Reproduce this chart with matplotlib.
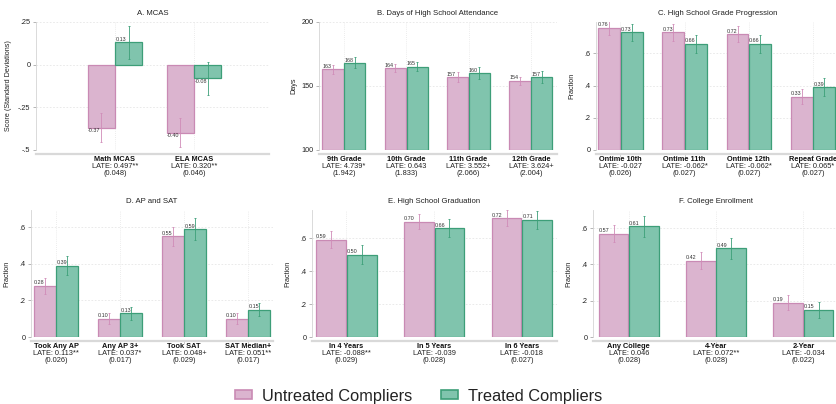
import matplotlib
matplotlib.use("Agg")
import matplotlib.pyplot as plt
from matplotlib.patches import Patch

plt.rcParams['font.family'] = ['Liberation Sans', 'DejaVu Sans']

# A. MCAS
cats_a = ['Math MCAS', 'ELA MCAS']
untreated_a = [-0.37, -0.40]
treated_a = [0.13, -0.08]
ci_u_a = [0.085, 0.085]
ci_t_a = [0.095, 0.095]
late_a = ['LATE: 0.497**', 'LATE: 0.320**']
se_a = ['(0.048)', '(0.046)']

# B. Days of High School Attendance
cats_b = ['9th Grade', '10th Grade', '11th Grade', '12th Grade']
untreated_b = [163, 164, 157, 154]
treated_b = [168, 165, 160, 157]
ci_u_b = [3.5, 3.0, 4.0, 3.2]
ci_t_b = [4.3, 3.5, 4.5, 4.5]
late_b = ['LATE: 4.739*', 'LATE: 0.643', 'LATE: 3.552+', 'LATE: 3.624+']
se_b = ['(1.942)', '(1.833)', '(2.066)', '(2.004)']

# C. High School Grade Progression
cats_c = ['Ontime 10th', 'Ontime 11th', 'Ontime 12th', 'Repeat Grade']
untreated_c = [0.76, 0.73, 0.72, 0.33]
treated_c = [0.73, 0.66, 0.66, 0.39]
ci_u_c = [0.045, 0.05, 0.05, 0.047]
ci_t_c = [0.055, 0.055, 0.055, 0.057]
late_c = ['LATE: -0.027', 'LATE: -0.062*', 'LATE: -0.062*', 'LATE: 0.065*']
se_c = ['(0.026)', '(0.027)', '(0.027)', '(0.027)']

# D. AP and SAT
cats_d = ['Took Any AP', 'Any AP 3+', 'Took SAT', 'SAT Median+']
untreated_d = [0.28, 0.10, 0.55, 0.10]
treated_d = [0.39, 0.13, 0.59, 0.15]
ci_u_d = [0.043, 0.03, 0.05, 0.03]
ci_t_d = [0.053, 0.035, 0.06, 0.035]
late_d = ['LATE: 0.113**', 'LATE: 0.037*', 'LATE: 0.048+', 'LATE: 0.051**']
se_d = ['(0.026)', '(0.017)', '(0.029)', '(0.017)']

# E. High School Graduation
cats_e = ['In 4 Years', 'In 5 Years', 'In 6 Years']
untreated_e = [0.59, 0.70, 0.72]
treated_e = [0.50, 0.66, 0.71]
ci_u_e = [0.05, 0.048, 0.048]
ci_t_e = [0.058, 0.056, 0.053]
late_e = ['LATE: -0.088**', 'LATE: -0.039', 'LATE: -0.018']
se_e = ['(0.029)', '(0.028)', '(0.027)']

# F. College Enrollment
cats_f = ['Any College', '4-Year', '2-Year']
untreated_f = [0.57, 0.42, 0.19]
treated_f = [0.61, 0.49, 0.15]
ci_u_f = [0.048, 0.046, 0.04]
ci_t_f = [0.057, 0.058, 0.045]
late_f = ['LATE: 0.046', 'LATE: 0.072**', 'LATE: -0.034']
se_f = ['(0.028)', '(0.028)', '(0.022)']

frac_ticks = [0, 0.2, 0.4, 0.6]
frac_labels = ['0', '.2', '.4', '.6']

PINK_FILL = '#dbb4cf'
PINK_EDGE = '#c98ab4'
PINK_ERR = '#d08cb8'
GREEN_FILL = '#80c4ad'
GREEN_EDGE = '#3d9e78'
GREEN_ERR = '#3c9f78'

W, H = 837, 404
fig = plt.figure(figsize=(W / 100, H / 100), dpi=100)


def px_axes(x0, x1, y0, y1):
    # axes box given in pixel coordinates from the top-left corner
    return fig.add_axes([x0 / W, 1 - y1 / H, (x1 - x0) / W, (y1 - y0) / H])


def panel(ax, title, cats, unt, trt, ci_u, ci_t, late, se, ylim, yticks,
          yticklabels, ylabel, xlim, fmt, ylab_px):
    n = len(cats)
    xs = list(range(1, n + 1))
    bw = 0.34
    xu = [x - 0.175 for x in xs]
    xt = [x + 0.175 for x in xs]

    for yt in yticks:
        ax.axhline(yt, color='#e6e6e6', lw=0.6, ls=(0, (2, 2)), zorder=0)
    for x in xs:
        ax.axvline(x, color='#e6e6e6', lw=0.6, ls=(0, (1, 1.5)), zorder=0)

    ax.bar(xu, [v - (ylim[0] if ylim[0] > 0 else 0) for v in unt], bw,
           bottom=ylim[0] if ylim[0] > 0 else 0,
           color=PINK_FILL, edgecolor=PINK_EDGE, lw=0.9, zorder=2)
    ax.bar(xt, [v - (ylim[0] if ylim[0] > 0 else 0) for v in trt], bw,
           bottom=ylim[0] if ylim[0] > 0 else 0,
           color=GREEN_FILL, edgecolor=GREEN_EDGE, lw=0.9, zorder=2)
    ax.errorbar(xu, unt, yerr=ci_u, fmt='none', ecolor=PINK_ERR,
                elinewidth=0.6, capsize=0.8, capthick=0.6, zorder=3)
    ax.errorbar(xt, trt, yerr=ci_t, fmt='none', ecolor=GREEN_ERR,
                elinewidth=0.6, capsize=0.8, capthick=0.6, zorder=3)

    for xx, vals in ((xu, unt), (xt, trt)):
        for x, v in zip(xx, vals):
            left = x - bw / 2
            if v >= 0:
                ax.annotate(fmt.format(v), (left, v), xytext=(0, 0.3),
                            textcoords='offset points', ha='left',
                            va='bottom', fontsize=3.9, color='#333333',
                            zorder=4)
            else:
                ax.annotate(fmt.format(v), (left, v), xytext=(0, -0.3),
                            textcoords='offset points', ha='left',
                            va='top', fontsize=3.9, color='#333333',
                            zorder=4)

    ax.set_xlim(*xlim)
    ax.set_ylim(*ylim)
    ax.set_yticks(yticks)
    ax.set_yticklabels(yticklabels)
    ax.set_xticks(xs)
    ax.set_xticklabels([])
    ax.tick_params(axis='y', length=2.5, width=0.5, color='#999999',
                   labelsize=5.2, pad=1.5, labelcolor='#222222')
    ax.tick_params(axis='x', length=2, width=0.5, color='#bbbbbb')

    for side in ('top', 'right'):
        ax.spines[side].set_visible(False)
    ax.spines['left'].set_color('#d4d4d4')
    ax.spines['left'].set_linewidth(0.6)
    ax.spines['bottom'].set_position(('outward', 3))
    ax.spines['bottom'].set_color('#d9d9d9')
    ax.spines['bottom'].set_linewidth(1.6)

    ax.set_title(title, fontsize=5.6, pad=5, color='#222222')
    ax.set_ylabel(ylabel, fontsize=5.2, color='#222222')
    ax.yaxis.set_label_coords(-ylab_px / ax.bbox.width, 0.5)

    for x, c, l, s in zip(xs, cats, late, se):
        ax.annotate(c, (x, 0), xycoords=('data', 'axes fraction'),
                    xytext=(0, -6.8), textcoords='offset points',
                    ha='center', va='center', fontsize=5.3,
                    fontweight='bold', color='#111111')
        ax.annotate(l, (x, 0), xycoords=('data', 'axes fraction'),
                    xytext=(0, -11.9), textcoords='offset points',
                    ha='center', va='center', fontsize=5.3, color='#222222')
        ax.annotate(s, (x, 0), xycoords=('data', 'axes fraction'),
                    xytext=(0, -17.0), textcoords='offset points',
                    ha='center', va='center', fontsize=5.3, color='#222222')


ax_a = px_axes(36, 269, 22, 150)
ax_b = px_axes(319, 557, 22, 150)
ax_c = px_axes(596, 840, 22, 150)
ax_d = px_axes(31, 273, 210, 337)
ax_e = px_axes(312, 557, 210, 337)
ax_f = px_axes(593, 840, 210, 337)

panel(ax_a, 'A. MCAS', cats_a, untreated_a, treated_a, ci_u_a, ci_t_a,
      late_a, se_a, (-0.5, 0.25), [-0.5, -0.25, 0, 0.25],
      ['-.5', '-.25', '0', '.25'], 'Score (Standard Deviations)',
      (0, 2.95), '{:.2f}', 24)
panel(ax_b, 'B. Days of High School Attendance', cats_b, untreated_b,
      treated_b, ci_u_b, ci_t_b, late_b, se_b, (100, 200), [100, 150, 200],
      ['100', '150', '200'], 'Days', (0.6, 4.42), '{:.0f}', 22)
panel(ax_c, 'C. High School Grade Progression', cats_c, untreated_c,
      treated_c, ci_u_c, ci_t_c, late_c, se_c, (0, 0.795), frac_ticks,
      frac_labels, 'Fraction', (0.62, 4.42), '{:.2f}', 21)
panel(ax_d, 'D. AP and SAT', cats_d, untreated_d, treated_d, ci_u_d, ci_t_d,
      late_d, se_d, (0, 0.695), frac_ticks, frac_labels, 'Fraction',
      (0.61, 4.39), '{:.2f}', 21)
panel(ax_e, 'E. High School Graduation', cats_e, untreated_e, treated_e,
      ci_u_e, ci_t_e, late_e, se_e, (0, 0.77), frac_ticks, frac_labels,
      'Fraction', (0.61, 3.4), '{:.2f}', 21)
panel(ax_f, 'F. College Enrollment', cats_f, untreated_f, treated_f,
      ci_u_f, ci_t_f, late_f, se_f, (0, 0.70), frac_ticks, frac_labels,
      'Fraction', (0.59, 3.42), '{:.2f}', 21)

handles = [Patch(facecolor=PINK_FILL, edgecolor=PINK_EDGE, lw=1.2,
                 label='Untreated Compliers'),
           Patch(facecolor=GREEN_FILL, edgecolor=GREEN_EDGE, lw=1.2,
                 label='Treated Compliers')]
fig.legend(handles=handles, loc='center', bbox_to_anchor=(0.5, 1 - 396 / H),
           ncol=2, frameon=False, fontsize=11.8, handlelength=1.05,
           handleheight=0.45, handletextpad=0.6, columnspacing=1.75,
           borderaxespad=0, labelcolor='#222222')

fig.savefig('out.png', dpi=100, facecolor='white')
